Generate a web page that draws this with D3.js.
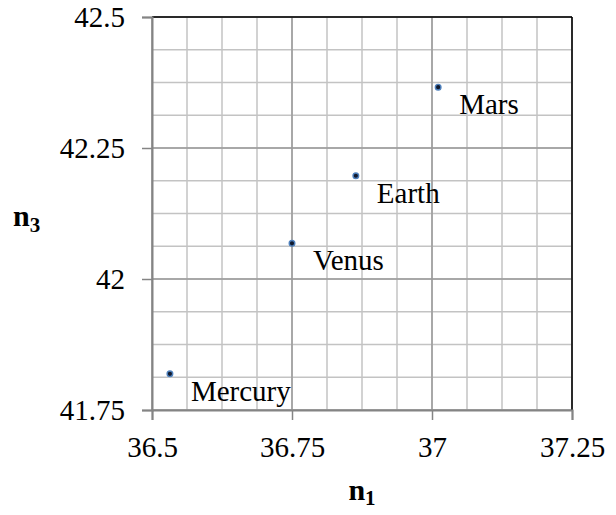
<!DOCTYPE html>
<meta charset="utf-8">
<head>
  <script src="https://d3js.org/d3.v7.min.js"></script>
  <style>
    body { margin: 0; background: #fff; }
    text { font-family: "Liberation Serif", "Times New Roman", serif; fill: #000; }
  </style>
</head>
<body>
  <div id="chart"></div>
  <script>
    // data
    var planets = ["Mercury", "Venus", "Earth", "Mars"];
    var n1 = [36.532, 36.75, 36.864, 37.011];
    var n3 = [41.819, 42.068, 42.197, 42.366];
    var xTicks = [36.5, 36.75, 37, 37.25];
    var yTicks = [41.75, 42, 42.25, 42.5];

    var W = 616, H = 515;
    var margin = { top: 17, right: 44, bottom: 105, left: 152 },
      width = W - margin.left - margin.right,
      height = H - margin.top - margin.bottom;

    var svg = d3.select("#chart")
      .append("svg")
      .attr("width", W)
      .attr("height", H)
      .append("g")
      .attr("transform", "translate(" + margin.left + "," + margin.top + ")");

    var x = d3.scaleLinear().domain([36.5, 37.25]).range([0, width]);
    var y = d3.scaleLinear().domain([41.75, 42.5]).range([height, 0]);

    // minor grid, 4 steps per major tick
    var xMinor = d3.range(36.5, 37.25 + 1e-9, 0.0625);
    var yMinor = d3.range(41.75, 42.5 + 1e-9, 0.0625);

    svg.append("g").selectAll("line")
      .data(xMinor).enter().append("line")
      .attr("x1", d => x(d)).attr("x2", d => x(d))
      .attr("y1", 0).attr("y2", height)
      .attr("stroke", "#c3c3c3").attr("stroke-width", 1.5);
    svg.append("g").selectAll("line")
      .data(yMinor).enter().append("line")
      .attr("y1", d => y(d)).attr("y2", d => y(d))
      .attr("x1", 0).attr("x2", width)
      .attr("stroke", "#c3c3c3").attr("stroke-width", 1.5);

    // major grid
    svg.append("g").selectAll("line")
      .data(xTicks).enter().append("line")
      .attr("x1", d => x(d)).attr("x2", d => x(d))
      .attr("y1", 0).attr("y2", height)
      .attr("stroke", "#9a9a9a").attr("stroke-width", 1.5);
    svg.append("g").selectAll("line")
      .data(yTicks).enter().append("line")
      .attr("y1", d => y(d)).attr("y2", d => y(d))
      .attr("x1", 0).attr("x2", width)
      .attr("stroke", "#9a9a9a").attr("stroke-width", 1.5);

    // top and right border
    svg.append("line").attr("x1", 0).attr("x2", width).attr("y1", 0).attr("y2", 0)
      .attr("stroke", "#000").attr("stroke-width", 1.5);
    svg.append("line").attr("x1", width).attr("x2", width).attr("y1", 0).attr("y2", height)
      .attr("stroke", "#000").attr("stroke-width", 1.5);

    // axes
    var xAxis = svg.append("g")
      .attr("transform", "translate(0," + height + ")")
      .call(d3.axisBottom(x).tickValues(xTicks).tickSize(10).tickPadding(16).tickFormat(d => String(d)));
    var yAxis = svg.append("g")
      .call(d3.axisLeft(y).tickValues(yTicks).tickSize(10).tickPadding(17).tickFormat(d => String(d)));

    [xAxis, yAxis].forEach(function (a) {
      a.attr("font-family", "Liberation Serif").attr("font-size", 29);
      a.select(".domain").attr("stroke", "#848484").attr("stroke-width", 2);
      a.selectAll(".tick line").attr("stroke", "#848484").attr("stroke-width", 1.5);
      a.selectAll(".tick text").attr("fill", "#000");
    });

    // points
    var pts = planets.map(function (p, i) { return { name: p, x: n1[i], y: n3[i] }; });
    svg.selectAll(".pt")
      .data(pts).enter().append("circle")
      .attr("class", "pt")
      .attr("cx", d => x(d.x)).attr("cy", d => y(d.y))
      .attr("r", 2.8)
      .attr("fill", "#111a2e")
      .attr("stroke", "#4f81bd").attr("stroke-width", 1.4);

    svg.selectAll(".lbl")
      .data(pts).enter().append("text")
      .attr("class", "lbl")
      .attr("x", d => x(d.x) + 21)
      .attr("y", d => y(d.y) + 27)
      .style("font-size", "29px")
      .text(d => d.name);

    // axis titles
    var t1 = svg.append("text")
      .attr("x", width / 2).attr("y", height + 90)
      .attr("text-anchor", "middle")
      .style("font-size", "30px").style("font-weight", "bold");
    t1.append("tspan").text("n");
    t1.append("tspan").attr("dy", 5).style("font-size", "21px").text("1");

    var t3 = svg.append("text")
      .attr("x", 13 - margin.left).attr("y", 226 - margin.top)
      .style("font-size", "30px").style("font-weight", "bold");
    t3.append("tspan").text("n");
    t3.append("tspan").attr("dy", 6).style("font-size", "21px").text("3");
  </script>
</body>
